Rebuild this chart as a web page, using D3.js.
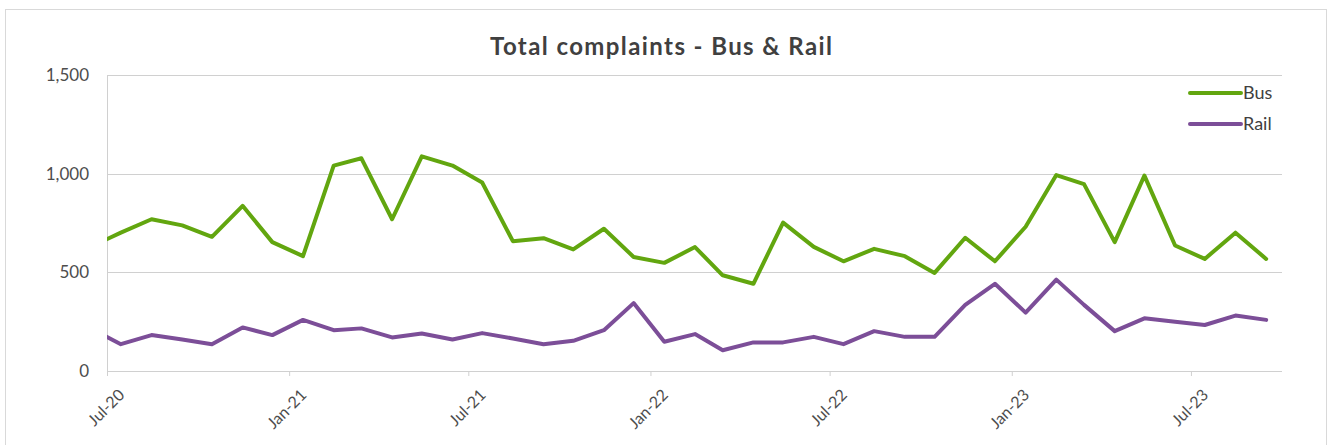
<!DOCTYPE html>
<html>
<head>
<meta charset="utf-8">
<script src="https://cdn.jsdelivr.net/npm/d3@7"></script>
<style>
  body { margin: 0; background: #fff; }
  svg { display: block; font-family: Lato, "Open Sans", sans-serif; }
</style>
</head>
<body>
<div id="chart"></div>
<script>
// monthly points (mid-month), first one sits just before the axis start and gets clipped
const months = [
  "2020-06-15", "2020-07-15", "2020-08-15", "2020-09-15", "2020-10-15", "2020-11-15", "2020-12-15",
  "2021-01-15", "2021-02-15", "2021-03-15", "2021-04-15", "2021-05-15", "2021-06-15",
  "2021-07-15", "2021-08-15", "2021-09-15", "2021-10-15", "2021-11-15", "2021-12-15",
  "2022-01-15", "2022-02-15", "2022-03-15", "2022-04-15", "2022-05-15", "2022-06-15",
  "2022-07-15", "2022-08-15", "2022-09-15", "2022-10-15", "2022-11-15", "2022-12-15",
  "2023-01-15", "2023-02-15", "2023-03-15", "2023-04-15", "2023-05-15", "2023-06-15",
  "2023-07-15", "2023-08-15", "2023-09-15"
];
const busValues = [
  631, 701, 769, 738, 680, 837, 653,
  582, 1041, 1078, 769, 1088, 1041,
  955, 658, 673, 616, 721, 578,
  548, 628, 485, 442, 752, 629,
  556, 619, 582, 497, 675, 556,
  731, 993, 947, 653, 990, 636,
  568, 701, 568
];
const railValues = [
  213, 136, 182, 160, 136, 221, 182,
  259, 207, 216, 170, 190, 160,
  192, 165, 136, 153, 207, 344,
  148, 187, 105, 145, 145, 173,
  136, 202, 173, 173, 335, 442,
  296, 463, 335, 202, 267, 250,
  233, 281, 259
];
const xDomain = ["2020-07-01", "2023-10-01"];
const yTicks = [0, 500, 1000, 1500];
const seriesNames = ["Bus", "Rail"];
const seriesColors = ["#62a60f", "#7c4e98"];
const title = "Total complaints - Bus & Rail";

const width = 1328;
const height = 445;
const margin = { top: 75, right: 46, bottom: 74, left: 107 };
const innerWidth = width - margin.left - margin.right;
const innerHeight = height - margin.top - margin.bottom;

const parseDate = d3.timeParse("%Y-%m-%d");

const svg = d3.select("#chart")
  .append("svg")
  .attr("width", width)
  .attr("height", height);

// outer chart border
svg.append("rect")
  .attr("x", 5.5)
  .attr("y", 9.5)
  .attr("width", 1321)
  .attr("height", 460)
  .attr("fill", "#fff")
  .attr("stroke", "#d9d9d9");

svg.append("text")
  .attr("x", 661)
  .attr("y", 55)
  .attr("text-anchor", "middle")
  .attr("font-size", 24)
  .attr("font-weight", "bold")
  .attr("fill", "#404040")
  .attr("textLength", 342)
  .attr("lengthAdjust", "spacing")
  .text(title);

const g = svg.append("g")
  .attr("transform", `translate(${margin.left},${margin.top})`);

const xScale = d3.scaleTime()
  .domain(xDomain.map(parseDate))
  .range([0, innerWidth]);

const yScale = d3.scaleLinear()
  .domain([0, 1500])
  .range([innerHeight, 0]);

// gridlines
g.append("g")
  .selectAll("line")
  .data(yTicks)
  .join("line")
  .attr("x1", 0)
  .attr("x2", innerWidth)
  .attr("y1", (d) => Math.round(yScale(d)) + 0.5)
  .attr("y2", (d) => Math.round(yScale(d)) + 0.5)
  .attr("stroke", "#d0d0d0")
  .attr("stroke-width", 1);

// y axis line
g.append("line")
  .attr("x1", 0.5).attr("x2", 0.5)
  .attr("y1", 0).attr("y2", innerHeight)
  .attr("stroke", "#d0d0d0");

// y labels
g.append("g")
  .selectAll("text")
  .data(yTicks)
  .join("text")
  .attr("x", -18)
  .attr("y", (d) => yScale(d))
  .attr("dy", "0.35em")
  .attr("text-anchor", "end")
  .attr("font-size", 17)
  .attr("fill", "#4d4d4d")
  .text(d3.format(","));

// x axis
const xTicks = d3.timeMonth.every(6).range(parseDate(xDomain[0]), parseDate(xDomain[1]));
const xAxis = g.append("g")
  .attr("transform", `translate(0,${innerHeight})`)
  .call(d3.axisBottom(xScale).tickValues(xTicks).tickSize(5).tickSizeOuter(0).tickFormat(d3.timeFormat("%b-%y")));
xAxis.select(".domain").remove();
xAxis.selectAll(".tick line").attr("stroke", "#d0d0d0");
xAxis.selectAll(".tick text")
  .attr("font-size", 16)
  .attr("font-family", "Lato, 'Open Sans', sans-serif")
  .attr("fill", "#4d4d4d")
  .attr("text-anchor", "end")
  .attr("y", 0)
  .attr("dy", 0)
  .attr("transform", "translate(18,25) rotate(-45)");

// lines, clipped to the plot area horizontally
svg.append("clipPath")
  .attr("id", "plot-clip")
  .append("rect")
  .attr("x", 0)
  .attr("y", -margin.top)
  .attr("width", innerWidth)
  .attr("height", height);

const dates = months.map(parseDate);
const series = [busValues, railValues];

const line = d3.line()
  .x((d, i) => xScale(dates[i]))
  .y((d) => yScale(d));

g.append("g")
  .attr("clip-path", "url(#plot-clip)")
  .selectAll("path")
  .data(series)
  .join("path")
  .attr("fill", "none")
  .attr("stroke", (d, i) => seriesColors[i])
  .attr("stroke-width", 4)
  .attr("stroke-linejoin", "round")
  .attr("stroke-linecap", "round")
  .attr("d", line);

// legend
const legend = svg.append("g")
  .selectAll("g")
  .data(seriesNames)
  .join("g")
  .attr("transform", (d, i) => `translate(1190,${93 + i * 31})`);

legend.append("line")
  .attr("x1", 0)
  .attr("x2", 51)
  .attr("stroke", (d, i) => seriesColors[i])
  .attr("stroke-width", 4)
  .attr("stroke-linecap", "round");

legend.append("text")
  .attr("x", 53)
  .attr("dy", "0.35em")
  .attr("font-size", 18)
  .attr("fill", "#404040")
  .text((d) => d);
</script>
</body>
</html>
